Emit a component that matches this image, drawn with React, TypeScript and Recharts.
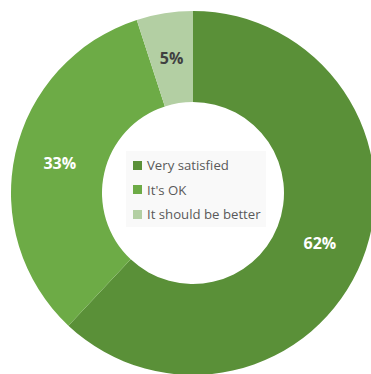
import React from "react";
import { PieChart, Pie, Cell, Legend } from "recharts";

const categories = ["Very satisfied", "It's OK", "It should be better"];
const values = [62, 33, 5];
const percentLabels = ["62%", "33%", "5%"];
const colors = ["#5a9038", "#6dab46", "#b3cfa3"];
const labelColors = ["#ffffff", "#ffffff", "#404040"];

const data = categories.map((name, i) => ({ name, value: values[i] }));

const RADIAN = Math.PI / 180;

const renderLabel = (props: any) => {
  const { cx, cy, midAngle, innerRadius, outerRadius, index } = props;
  const r = (innerRadius + outerRadius) / 2;
  const x = cx + r * Math.cos(-midAngle * RADIAN);
  const y = cy + r * Math.sin(-midAngle * RADIAN);
  return (
    <text
      x={x}
      y={y}
      fill={labelColors[index]}
      textAnchor="middle"
      dominantBaseline="central"
      fontFamily="'Open Sans', sans-serif"
      fontWeight={700}
      fontSize={16}
    >
      {percentLabels[index]}
    </text>
  );
};

const renderLegend = () => {
  return (
    <div
      style={{
        background: "#f9f9f9",
        padding: "2px 0 2px 7px",
        boxSizing: "border-box",
        width: 140,
        height: 76,
      }}
    >
      {categories.map((name, i) => (
        <div
          key={name}
          style={{
            display: "flex",
            alignItems: "center",
            height: 24.5,
            fontFamily: "'Open Sans', sans-serif",
            fontSize: 13.2,
            color: "#595959",
            whiteSpace: "nowrap",
          }}
        >
          <span
            style={{
              display: "inline-block",
              width: 9,
              height: 9,
              background: colors[i],
              marginRight: 5,
            }}
          />
          <span>{name}</span>
        </div>
      ))}
    </div>
  );
};

export default function App() {
  return (
    <div style={{ position: "absolute", left: 0, top: 0, width: 371, height: 374, background: "#fff" }}>
      <PieChart width={371} height={374} margin={{ top: 0, right: 0, bottom: 0, left: 0 }}>
        <Pie
          data={data}
          dataKey="value"
          nameKey="name"
          cx={193}
          cy={193}
          innerRadius={91}
          outerRadius={182}
          startAngle={90}
          endAngle={-270}
          stroke="none"
          label={renderLabel}
          labelLine={false}
          isAnimationActive={false}
        >
          {data.map((d, i) => (
            <Cell key={d.name} fill={colors[i]} />
          ))}
        </Pie>
        <Legend
          content={renderLegend}
          wrapperStyle={{ position: "absolute", left: 126, top: 151, width: 140, height: 76 }}
        />
      </PieChart>
    </div>
  );
}
